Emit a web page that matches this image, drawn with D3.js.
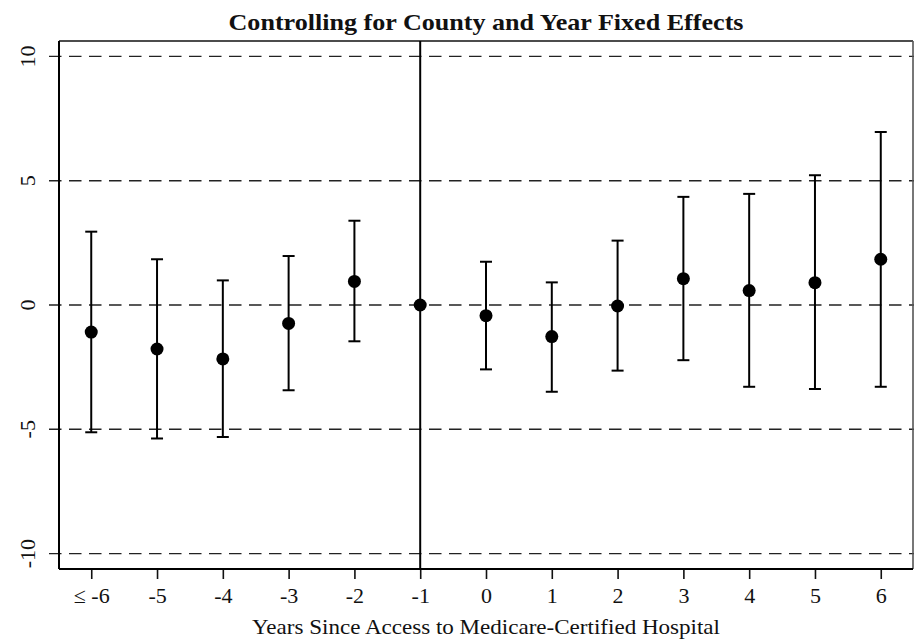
<!DOCTYPE html>
<html>
<head>
<meta charset="utf-8">
<script src="https://cdn.jsdelivr.net/npm/d3@7"></script>
<style>
  html, body { margin: 0; padding: 0; background: #fff; }
  svg { display: block; }
  text { font-family: "Liberation Serif", "DejaVu Serif", serif; fill: #111; }
</style>
</head>
<body>
<svg id="chart" width="924" height="641"></svg>
<script>
// Event-study estimates with 95% confidence intervals
const categories = ["≤ -6", "-5", "-4", "-3", "-2", "-1", "0", "1", "2", "3", "4", "5", "6"];
const estimates  = [-1.09, -1.77, -2.17, -0.74, 0.95, 0, -0.43, -1.27, -0.04, 1.06, 0.58, 0.90, 1.84];
const lowerCI    = [-5.12, -5.37, -5.31, -3.43, -1.46, null, -2.59, -3.49, -2.64, -2.22, -3.29, -3.38, -3.29];
const upperCI    = [2.95, 1.84, 0.99, 1.97, 3.39, null, 1.74, 0.91, 2.59, 4.35, 4.47, 5.22, 6.96];
const yTickValues = [-10, -5, 0, 5, 10];
const referenceYear = "-1";

const titleText = "Controlling for County and Year Fixed Effects";
const xTitleText = "Years Since Access to Medicare-Certified Hospital";

const svg = d3.select("#chart");
const frame = { left: 59, right: 913, top: 41, bottom: 569 };

const x = d3.scalePoint()
  .domain(categories)
  .range([frame.left, frame.right])
  .padding(0.49);

const y = d3.scaleLinear()
  .domain([-10.62, 10.62])
  .range([frame.bottom, frame.top]);

const points = categories.map((c, i) => ({
  cat: c, est: estimates[i], lo: lowerCI[i], hi: upperCI[i]
}));

// Horizontal dashed grid lines (extend left past the frame as ticks)
svg.append("g")
  .selectAll("line")
  .data(yTickValues)
  .join("line")
  .attr("x1", frame.left - 10)
  .attr("x2", frame.right + 1)
  .attr("y1", d => y(d))
  .attr("y2", d => y(d))
  .attr("stroke", "#222")
  .attr("stroke-width", 1.4)
  .attr("stroke-dasharray", "12.5,7.5");

// Y axis labels (rotated)
svg.append("g")
  .selectAll("text")
  .data(yTickValues)
  .join("text")
  .attr("transform", d => `translate(35,${y(d)}) rotate(-90)`)
  .attr("text-anchor", "middle")
  .attr("font-size", 22)
  .text(d => d);

// X axis ticks and labels
const xAxis = d3.axisBottom(x).tickSize(10).tickPadding(8);
const gx = svg.append("g")
  .attr("transform", `translate(0,${frame.bottom})`)
  .call(xAxis);
gx.select(".domain").remove();
gx.selectAll(".tick line").attr("stroke", "#111").attr("stroke-width", 1.6);
gx.selectAll(".tick text")
  .attr("font-size", 22)
  .attr("font-family", "Liberation Serif, serif")
  .attr("fill", "#111")
  .attr("dy", "0.71em");

// Frame
svg.append("line")
  .attr("x1", frame.left).attr("x2", frame.right)
  .attr("y1", frame.top).attr("y2", frame.top)
  .attr("stroke", "#111").attr("stroke-width", 1.3);
svg.append("line")
  .attr("x1", frame.right).attr("x2", frame.right)
  .attr("y1", frame.top).attr("y2", frame.bottom)
  .attr("stroke", "#555").attr("stroke-width", 1.6);
svg.append("line")
  .attr("x1", frame.left).attr("x2", frame.left)
  .attr("y1", frame.top).attr("y2", frame.bottom)
  .attr("stroke", "#000").attr("stroke-width", 2);
svg.append("line")
  .attr("x1", frame.left).attr("x2", frame.right)
  .attr("y1", frame.bottom).attr("y2", frame.bottom)
  .attr("stroke", "#000").attr("stroke-width", 2);

// Reference year vertical line
svg.append("line")
  .attr("x1", x(referenceYear)).attr("x2", x(referenceYear))
  .attr("y1", frame.top).attr("y2", frame.bottom)
  .attr("stroke", "#000").attr("stroke-width", 2);

// Confidence interval bars
const ci = points.filter(d => d.lo !== null && d.hi !== null);
const capHalf = 6;
const bars = svg.append("g").attr("stroke", "#000").attr("stroke-width", 2);
bars.selectAll("line.stem")
  .data(ci).join("line").attr("class", "stem")
  .attr("x1", d => x(d.cat)).attr("x2", d => x(d.cat))
  .attr("y1", d => y(d.lo)).attr("y2", d => y(d.hi));
bars.selectAll("line.capHi")
  .data(ci).join("line").attr("class", "capHi")
  .attr("x1", d => x(d.cat) - capHalf).attr("x2", d => x(d.cat) + capHalf)
  .attr("y1", d => y(d.hi)).attr("y2", d => y(d.hi));
bars.selectAll("line.capLo")
  .data(ci).join("line").attr("class", "capLo")
  .attr("x1", d => x(d.cat) - capHalf).attr("x2", d => x(d.cat) + capHalf)
  .attr("y1", d => y(d.lo)).attr("y2", d => y(d.lo));

// Point estimates
svg.append("g")
  .selectAll("circle")
  .data(points)
  .join("circle")
  .attr("cx", d => x(d.cat))
  .attr("cy", d => y(d.est))
  .attr("r", 6.5)
  .attr("fill", "#000");

// Title
svg.append("text")
  .attr("x", (frame.left + frame.right) / 2)
  .attr("y", 30)
  .attr("text-anchor", "middle")
  .attr("font-size", 24)
  .attr("font-weight", "bold")
  .attr("textLength", 515)
  .attr("lengthAdjust", "spacingAndGlyphs")
  .text(titleText);

// X axis title
svg.append("text")
  .attr("x", (frame.left + frame.right) / 2)
  .attr("y", 634)
  .attr("text-anchor", "middle")
  .attr("font-size", 22)
  .attr("textLength", 468)
  .attr("lengthAdjust", "spacingAndGlyphs")
  .text(xTitleText);
</script>
</body>
</html>
